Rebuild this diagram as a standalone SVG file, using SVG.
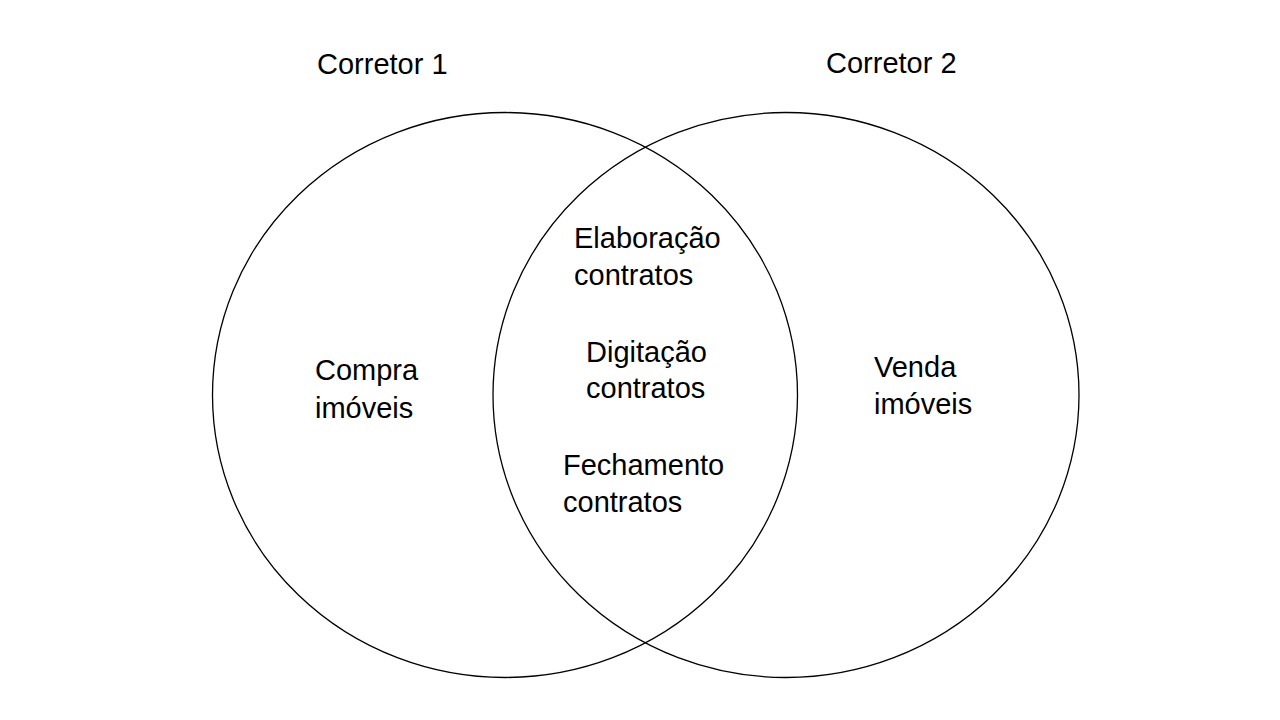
<svg xmlns="http://www.w3.org/2000/svg" width="1280" height="720" viewBox="0 0 1280 720">
<style>
.c{fill:none;stroke:#000;stroke-width:1.3}
text{font-family:"Liberation Sans",Arial,sans-serif;font-size:29px;fill:#000}
</style>
<rect width="1280" height="720" fill="#fff"/>
<g id="set1">
<ellipse class="c" cx="505" cy="395" rx="292.5" ry="282.5"/>
<text x="317" y="74">Corretor 1</text>
<text x="315" y="380">Compra</text>
<text x="315" y="418">imóveis</text>
</g>
<g id="set2">
<ellipse class="c" cx="786" cy="395" rx="293" ry="282.5"/>
<text x="826" y="73">Corretor 2</text>
<text x="874" y="377">Venda</text>
<text x="874" y="414">imóveis</text>
</g>
<g id="intersection">
<text x="574" y="248">Elaboração</text>
<text x="574" y="285">contratos</text>
<text x="586" y="362">Digitação</text>
<text x="586" y="398">contratos</text>
<text x="563" y="475">Fechamento</text>
<text x="563" y="512">contratos</text>
</g>
<g id="connectors"/>
</svg>
